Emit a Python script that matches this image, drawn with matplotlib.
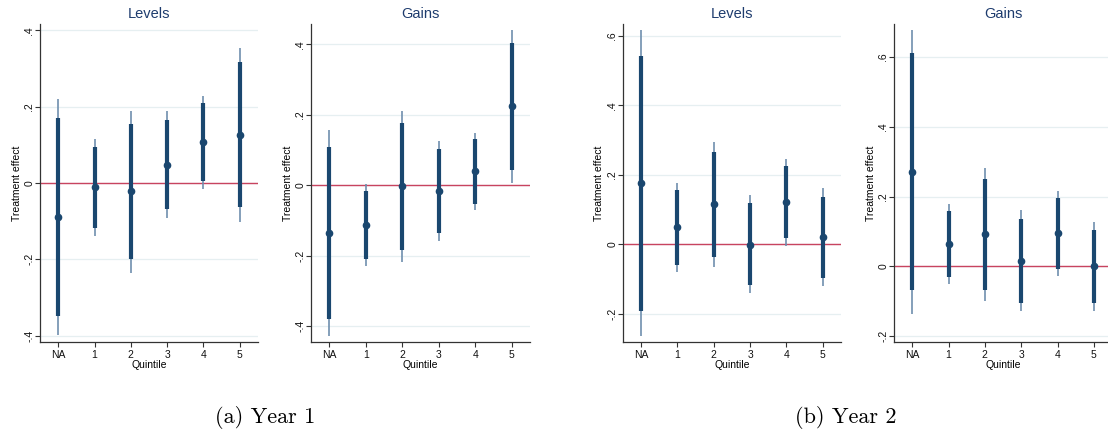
import matplotlib
matplotlib.use("Agg")
import matplotlib.pyplot as plt
import numpy as np

W, H = 1108, 437
categories = ["NA", "1", "2", "3", "4", "5"]

# Year 1 - Levels
y1_lev_pt = [-0.089, -0.011, -0.021, 0.048, 0.107, 0.127]
y1_lev_lo90 = [-0.348, -0.117, -0.200, -0.069, 0.005, -0.064]
y1_lev_hi90 = [0.170, 0.094, 0.155, 0.165, 0.209, 0.317]
y1_lev_lo95 = [-0.398, -0.139, -0.235, -0.093, -0.015, -0.101]
y1_lev_hi95 = [0.220, 0.115, 0.190, 0.188, 0.228, 0.354]

# Year 1 - Gains
y1_gain_pt = [-0.136, -0.112, -0.002, -0.017, 0.040, 0.225]
y1_gain_lo90 = [-0.381, -0.209, -0.183, -0.136, -0.052, 0.043]
y1_gain_hi90 = [0.109, -0.017, 0.177, 0.102, 0.131, 0.405]
y1_gain_lo95 = [-0.428, -0.228, -0.218, -0.158, -0.071, 0.007]
y1_gain_hi95 = [0.156, 0.003, 0.212, 0.125, 0.149, 0.441]

# Year 2 - Levels
y2_lev_pt = [0.176, 0.049, 0.115, -0.001, 0.121, 0.020]
y2_lev_lo90 = [-0.192, -0.059, -0.037, -0.118, 0.017, -0.097]
y2_lev_hi90 = [0.544, 0.155, 0.265, 0.118, 0.225, 0.137]
y2_lev_lo95 = [-0.264, -0.080, -0.065, -0.142, -0.005, -0.120]
y2_lev_hi95 = [0.617, 0.177, 0.295, 0.141, 0.245, 0.161]

# Year 2 - Gains
y2_gain_pt = [0.270, 0.064, 0.092, 0.016, 0.095, 0.000]
y2_gain_lo90 = [-0.069, -0.031, -0.067, -0.105, -0.008, -0.105]
y2_gain_hi90 = [0.611, 0.159, 0.251, 0.137, 0.196, 0.105]
y2_gain_lo95 = [-0.136, -0.050, -0.098, -0.128, -0.027, -0.128]
y2_gain_hi95 = [0.678, 0.178, 0.282, 0.161, 0.215, 0.126]

panels = [
    dict(title="Levels", pt=y1_lev_pt, lo90=y1_lev_lo90, hi90=y1_lev_hi90, lo95=y1_lev_lo95, hi95=y1_lev_hi95,
         ylim=(-0.417, 0.417), yticks=[-0.4, -0.2, 0, 0.2, 0.4], box=(40, 258)),
    dict(title="Gains", pt=y1_gain_pt, lo90=y1_gain_lo90, hi90=y1_gain_hi90, lo95=y1_gain_lo95, hi95=y1_gain_hi95,
         ylim=(-0.445, 0.458), yticks=[-0.4, -0.2, 0, 0.2, 0.4], box=(311, 530)),
    dict(title="Levels", pt=y2_lev_pt, lo90=y2_lev_lo90, hi90=y2_lev_hi90, lo95=y2_lev_lo95, hi95=y2_lev_hi95,
         ylim=(-0.282, 0.635), yticks=[-0.2, 0, 0.2, 0.4, 0.6], box=(622.7, 841)),
    dict(title="Gains", pt=y2_gain_pt, lo90=y2_gain_lo90, hi90=y2_gain_hi90, lo95=y2_gain_lo95, hi95=y2_gain_hi95,
         ylim=(-0.217, 0.695), yticks=[-0.2, 0, 0.2, 0.4, 0.6], box=(894, 1112)),
]

def fmt(v):
    if abs(v) < 1e-9:
        return "0"
    s = f"{v:.1f}"
    return s.replace("0.", ".")

navy = "#1a476f"
light = "#6f8fae"
zero_c = "#c8445f"
grid_c = "#e6eff1"

fig = plt.figure(figsize=(W / 100, H / 100), dpi=100)
top, bottom = 24, 342
x = np.arange(len(categories))
for p in panels:
    l, r = p["box"]
    ax = fig.add_axes([l / W, 1 - bottom / H, (r - l) / W, (bottom - top) / H])
    ax.set_xlim(-0.5, 5.5)
    ax.set_ylim(*p["ylim"])
    ax.set_yticks(p["yticks"])
    ax.set_yticklabels([fmt(v) for v in p["yticks"]], rotation=90, va="center",
                       fontsize=7.5, family="Liberation Sans")
    ax.set_xticks(x)
    ax.set_xticklabels(categories, fontsize=7.5, family="Liberation Sans")
    for v in p["yticks"]:
        ax.axhline(v, color=grid_c, lw=0.9, zorder=0)
    ax.axhline(0, color=zero_c, lw=1.0, zorder=1)
    ax.vlines(x, p["lo95"], p["hi95"], color=light, lw=1.2, zorder=2)
    ax.vlines(x, p["lo90"], p["hi90"], color=navy, lw=3.0, zorder=3)
    ax.plot(x, p["pt"], "o", color=navy, ms=4.5, zorder=4)
    for s in ["top", "right"]:
        ax.spines[s].set_visible(False)
    for s in ["left", "bottom"]:
        ax.spines[s].set_color("#333333")
        ax.spines[s].set_linewidth(0.9)
    ax.tick_params(axis="both", length=3.5, width=0.8, color="#333333", labelcolor="#111111")
    ax.tick_params(axis="x", pad=2)
    ax.tick_params(axis="y", pad=0.5)
    ax.set_title(p["title"], fontsize=10.5, color="#1e3c6e", family="Liberation Sans", pad=4)
    ax.set_xlabel("Quintile", fontsize=7.5, family="Liberation Sans", labelpad=0)
    ax.set_ylabel("Treatment effect", fontsize=7.5, family="Liberation Sans", labelpad=2)

fig.text(265 / W, 1 - 423 / H, "(a) Year 1", ha="center", va="baseline", fontsize=16, family="cmr10")
fig.text(846 / W, 1 - 423 / H, "(b) Year 2", ha="center", va="baseline", fontsize=16, family="cmr10")

fig.savefig("out.png", dpi=100)
